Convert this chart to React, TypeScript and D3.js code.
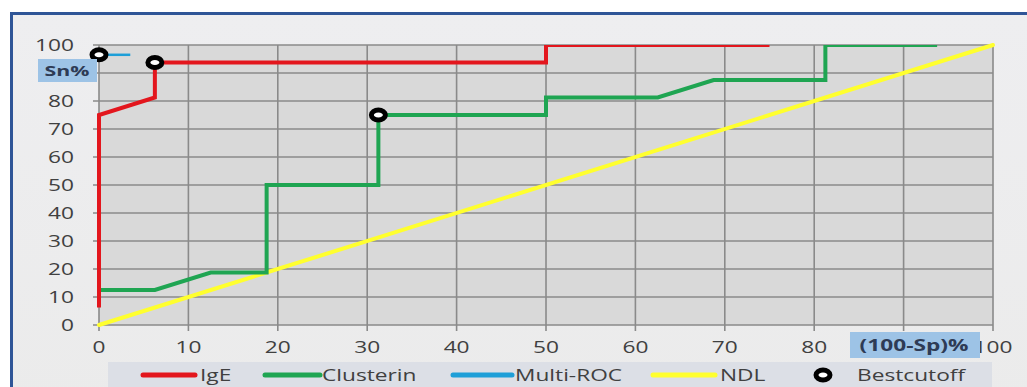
import React from "react";
import * as d3 from "d3";

// ROC curves: x = (100 - specificity) %, y = sensitivity %
const igeX = [0, 0, 6.25, 6.25, 50, 50, 75];
const igeY = [6.25, 75, 81.25, 93.75, 93.75, 100, 100];

const clusterinX = [0, 6.25, 12.5, 18.75, 18.75, 31.25, 31.25, 50, 50, 62.5, 68.75, 81.25, 81.25, 93.75];
const clusterinY = [12.5, 12.5, 18.75, 18.75, 50, 50, 75, 75, 81.25, 81.25, 87.5, 87.5, 100, 100];

const multiRocX = [0, 3.5];
const multiRocY = [96.5, 96.5];

const ndlX = [0, 100];
const ndlY = [0, 100];

const cutoffX = [0, 6.25, 31.25];
const cutoffY = [96.5, 93.75, 75];

const xTicks = [0, 10, 20, 30, 40, 50, 60, 70, 80, 90, 100];
const yTicks = [0, 10, 20, 30, 40, 50, 60, 70, 80, 90, 100];
// the "Sn%" title sits over the 90 position, so that label is left out
const yLabels = [0, 10, 20, 30, 40, 50, 60, 70, 80, 100];

const legendNames = ["IgE", "Clusterin", "Multi-ROC", "NDL", "Bestcutoff"];
const legendColors = ["#e3161d", "#1fa552", "#1e9fd8", "#ffff2e", "#000"];

const W = 1027;
const H = 387;
const FONT = "'Open Sans', sans-serif";
const SX = 1.42;

function Txt({ x, y, anchor = "start", size = 16, weight = 400, fill = "#404040", children }: any) {
  return (
    <g transform={`translate(${x},${y}) scale(${SX},1)`}>
      <text textAnchor={anchor} fontFamily={FONT} fontSize={size} fontWeight={weight} fill={fill}>
        {children}
      </text>
    </g>
  );
}

export default function App() {
  const x = d3.scaleLinear().domain([0, 100]).range([99, 993]);
  const y = d3.scaleLinear().domain([0, 100]).range([325, 45]);

  const line = (xs: number[], ys: number[]) =>
    d3
      .line<number>()
      .x((_, i) => x(xs[i]))
      .y((d) => y(d))(ys) as string;

  const legendLines = [
    [143, 195, 200],
    [265, 320, 322],
    [453, 512, 515],
    [653, 715, 720],
  ];

  return (
    <svg width={W} height={H} style={{ position: "absolute", left: 0, top: 0, display: "block" }}>
      <defs>
        <clipPath id="plotClip">
          <rect x={0} y={y(100)} width={W} height={H} />
        </clipPath>
        <linearGradient id="frameBg" x1="0" y1="0" x2="0" y2="1">
          <stop offset="0" stopColor="#eeeef0" />
          <stop offset="1" stopColor="#ebebeb" />
        </linearGradient>
      </defs>
      <rect x={0} y={0} width={W} height={H} fill="#fff" />
      {/* chart frame */}
      <rect x={11.5} y={13.5} width={W + 10} height={H + 10} fill="url(#frameBg)" stroke="#2f5597" strokeWidth={3} />

      {/* plot background */}
      <rect x={x(0)} y={y(100)} width={x(100) - x(0)} height={y(0) - y(100)} fill="#d9d9d9" />

      {/* grid */}
      {yTicks.map((t) => (
        <line key={"gy" + t} x1={x(0) - 6} x2={x(100)} y1={y(t)} y2={y(t)} stroke="#8a8a8a" strokeWidth={1.6} />
      ))}
      {xTicks.map((t) => (
        <line key={"gx" + t} x1={x(t)} x2={x(t)} y1={y(100)} y2={y(0) + 6} stroke="#8a8a8a" strokeWidth={1.6} />
      ))}

      {/* y tick labels */}
      {yLabels.map((t) => (
        <Txt key={"ly" + t} x={74} y={y(t) + 5.5} anchor="end">
          {t}
        </Txt>
      ))}
      {/* x tick labels */}
      {xTicks.map((t) => (
        <Txt key={"lx" + t} x={x(t)} y={353} anchor="middle">
          {t}
        </Txt>
      ))}

      {/* series */}
      <path d={line(ndlX, ndlY)} fill="none" stroke="#ffff2e" strokeWidth={4} strokeLinecap="round" />
      <g clipPath="url(#plotClip)">
        <path d={line(clusterinX, clusterinY)} fill="none" stroke="#1fa552" strokeWidth={4} />
        <path d={line(igeX, igeY)} fill="none" stroke="#e3161d" strokeWidth={4} />
        <path d={line(multiRocX, multiRocY)} fill="none" stroke="#1e9fd8" strokeWidth={2.5} />
      </g>
      {cutoffX.map((cx, i) => (
        <ellipse key={"c" + i} cx={x(cx)} cy={y(cutoffY[i])} rx={7} ry={5} fill="#fff" stroke="#000" strokeWidth={5} />
      ))}

      {/* axis title boxes */}
      <rect x={38} y={59} width={59} height={23} fill="#9dc3e6" />
      <Txt x={67} y={76} anchor="middle" weight={700} size={15} fill="#2e3b55">
        Sn%
      </Txt>
      <rect x={850} y={332} width={130} height={26} fill="#9dc3e6" />
      <Txt x={914} y={351} anchor="middle" weight={700} size={16} fill="#2e3b55">
        (100-Sp)%
      </Txt>

      {/* legend */}
      <rect x={108} y={362} width={884} height={30} fill="#dcdfe6" />
      {legendLines.map(([a, b, tx], i) => (
        <g key={"lg" + i}>
          <line x1={a} x2={b} y1={375} y2={375} stroke={legendColors[i]} strokeWidth={5} strokeLinecap="round" />
          <Txt x={tx} y={381}>
            {legendNames[i]}
          </Txt>
        </g>
      ))}
      <ellipse cx={823} cy={375} rx={7} ry={5} fill="#fff" stroke="#000" strokeWidth={5} />
      <Txt x={857} y={381}>
        {legendNames[4]}
      </Txt>
    </svg>
  );
}
